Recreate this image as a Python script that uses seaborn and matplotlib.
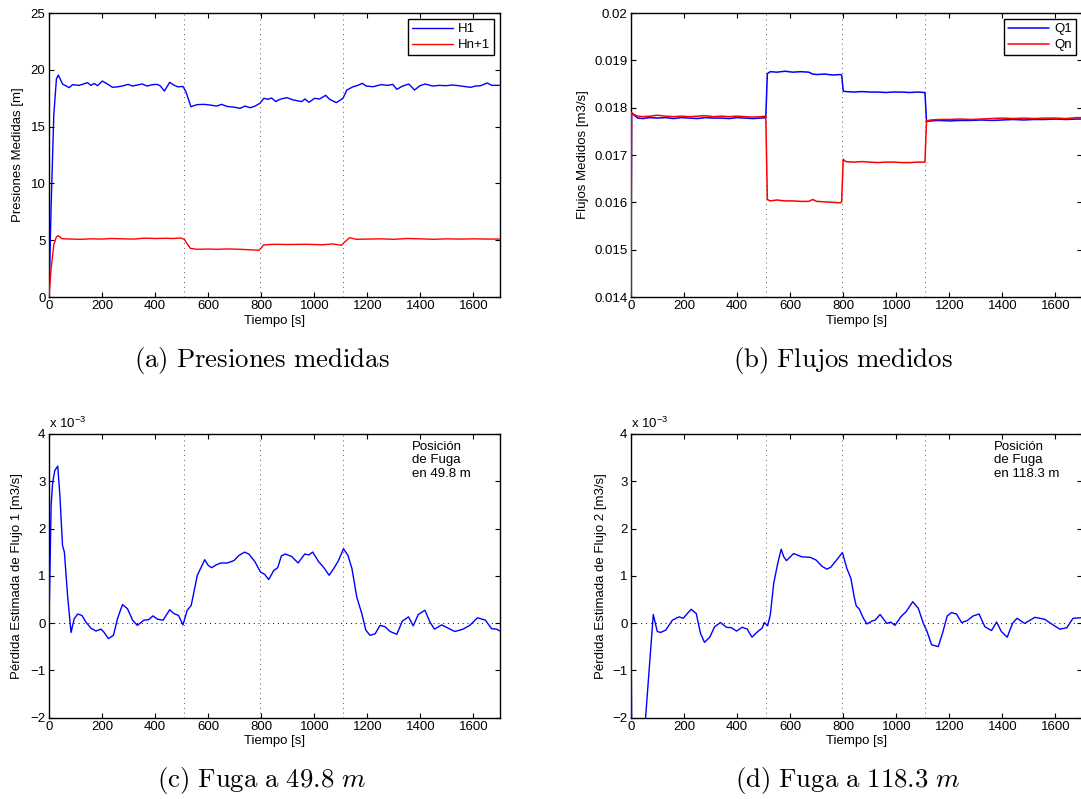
import matplotlib
matplotlib.use("Agg")
import matplotlib.pyplot as plt
from matplotlib.ticker import FuncFormatter
import pandas as pd
import seaborn as sns

# ---------------------------------------------------------------- data
# instants (s) at which the operating condition changes
event_times = [510, 795, 1110]

# (a) measured pressure heads [m]
h1_time = [0, 8, 18, 28, 35, 51, 76, 89, 114, 145,
           158, 170, 183, 201, 220, 239, 258, 276, 298, 314,
           333, 351, 370, 389, 408, 420, 435, 455, 470, 486,
           505, 516, 535, 557, 582, 607, 632, 651, 670, 695,
           720, 739, 758, 777, 795, 810, 826, 839, 855, 870,
           896, 920, 952, 965, 980, 1001, 1020, 1043, 1058, 1083,
           1108, 1123, 1146, 1161, 1181, 1196, 1221, 1252, 1277, 1296,
           1311, 1333, 1356, 1378, 1398, 1418, 1446, 1471, 1496, 1521,
           1546, 1571, 1590, 1608, 1627, 1652, 1669, 1700]
h1 = [0, 8.0, 16.0, 19.2, 19.54, 18.75, 18.43, 18.69, 18.63, 18.87,
      18.63, 18.8, 18.6, 19.01, 18.75, 18.46, 18.5, 18.57, 18.72, 18.57,
      18.66, 18.75, 18.57, 18.69, 18.72, 18.57, 18.13, 18.9, 18.66, 18.5,
      18.53, 18.07, 16.75, 16.93, 16.96, 16.9, 16.81, 16.96, 16.78, 16.72,
      16.61, 16.81, 16.66, 16.81, 17.05, 17.49, 17.4, 17.52, 17.2, 17.4,
      17.55, 17.35, 17.2, 17.43, 17.14, 17.49, 17.43, 17.75, 17.4, 17.11,
      17.49, 18.22, 18.51, 18.6, 18.81, 18.57, 18.51, 18.69, 18.63, 18.72,
      18.28, 18.57, 18.75, 18.22, 18.6, 18.75, 18.57, 18.63, 18.6, 18.66,
      18.6, 18.51, 18.46, 18.57, 18.6, 18.84, 18.63, 18.63]

hn_time = [0, 8, 18, 28, 35, 49, 80, 120, 160, 200,
           233, 280, 320, 358, 400, 440, 470, 495, 510, 520,
           533, 558, 600, 640, 670, 720, 771, 790, 800, 808,
           846, 900, 971, 1030, 1071, 1102, 1115, 1133, 1158, 1200,
           1250, 1300, 1350, 1400, 1450, 1500, 1550, 1600, 1650, 1700]
hn = [0, 2.5, 4.6, 5.3, 5.4, 5.13, 5.1, 5.08, 5.12, 5.1,
      5.15, 5.12, 5.1, 5.18, 5.15, 5.17, 5.15, 5.2, 5.08, 4.7,
      4.28, 4.2, 4.22, 4.2, 4.23, 4.2, 4.14, 4.11, 4.3, 4.58,
      4.64, 4.62, 4.64, 4.6, 4.67, 4.55, 4.85, 5.22, 5.08, 5.1,
      5.12, 5.08, 5.15, 5.12, 5.08, 5.12, 5.1, 5.12, 5.1, 5.1]

# (b) measured flows [m3/s]
flow_time = [0, 2, 10, 25, 45, 70, 100, 130, 160, 190,
             220, 250, 280, 310, 340, 370, 400, 430, 460, 490, 508,
             514, 525, 550, 580, 610, 640, 670, 685, 700, 730, 760, 790, 794,
             800, 810, 840, 870, 900, 930, 960, 990, 1020, 1050, 1080, 1108,
             1114, 1130, 1160, 1200, 1240, 1280, 1320, 1360, 1400, 1440,
             1480, 1520, 1560, 1600, 1640, 1680, 1700]
q1 = [0.0140, 0.01788, 0.01785, 0.01778, 0.01777, 0.01779, 0.01778, 0.01779, 0.01777, 0.01779,
      0.01778, 0.01777, 0.01779, 0.01778, 0.01778, 0.01777, 0.01779, 0.01778, 0.01777, 0.01778, 0.01779,
      0.01872, 0.01876, 0.01875, 0.01877, 0.01875, 0.01876, 0.01875, 0.01871, 0.01870, 0.01871,
      0.01869, 0.01870, 0.01869,
      0.01835, 0.01834, 0.01833, 0.01834, 0.01833, 0.01833, 0.01832, 0.01833, 0.01833, 0.01832,
      0.01833, 0.01832,
      0.01771, 0.01772, 0.01773, 0.01772, 0.01773, 0.01773, 0.01774, 0.01773, 0.01774, 0.01775,
      0.01774, 0.01775, 0.01775, 0.01776, 0.01775, 0.01776, 0.01776]
qn = [0.0140, 0.01790, 0.01786, 0.01782, 0.01781, 0.01782, 0.01784, 0.01782, 0.01781, 0.01782,
      0.01781, 0.01782, 0.01783, 0.01781, 0.01782, 0.01781, 0.01782, 0.01781, 0.01780, 0.01781, 0.01782,
      0.01606, 0.01603, 0.01605, 0.01603, 0.01603, 0.01602, 0.01602, 0.01606, 0.01602, 0.01601,
      0.01600, 0.01599, 0.01601,
      0.01691, 0.01686, 0.01685, 0.01686, 0.01685, 0.01684, 0.01685, 0.01685, 0.01684, 0.01684,
      0.01685, 0.01685,
      0.01772, 0.01774, 0.01775, 0.01775, 0.01776, 0.01775, 0.01776, 0.01777, 0.01778, 0.01777,
      0.01778, 0.01777, 0.01778, 0.01778, 0.01777, 0.01779, 0.01779]

# (c) estimated leak flow at 49.8 m [x 10^-3 m3/s]
leak1_time = [0, 8, 14, 22, 33, 41, 51, 58, 70, 83,
              95, 108, 124, 139, 158, 177, 196, 208, 224, 243,
              258, 277, 296, 315, 333, 358, 375, 392, 409, 430,
              455, 471, 488, 505, 521, 536, 546, 559, 571, 587,
              600, 613, 630, 647, 672, 697, 716, 737, 753, 776,
              797, 813, 828, 847, 862, 876, 891, 914, 939, 964,
              979, 994, 1016, 1035, 1056, 1073, 1091, 1110, 1127, 1142,
              1160, 1179, 1194, 1210, 1229, 1248, 1267, 1286, 1311, 1332,
              1355, 1373, 1392, 1417, 1436, 1453, 1480, 1505, 1530, 1561,
              1586, 1615, 1645, 1668, 1687, 1700]
leak1 = [0, 2.5, 2.98, 3.23, 3.32, 2.7, 1.64, 1.5, 0.58, -0.2,
         0.09, 0.19, 0.16, 0.02, -0.11, -0.17, -0.13, -0.2, -0.33, -0.26,
         0.09, 0.39, 0.3, 0.06, -0.05, 0.06, 0.07, 0.15, 0.08, 0.06,
         0.28, 0.2, 0.16, -0.04, 0.27, 0.37, 0.65, 1.01, 1.15, 1.34,
         1.22, 1.17, 1.23, 1.27, 1.27, 1.32, 1.43, 1.5, 1.46, 1.3,
         1.08, 1.03, 0.92, 1.11, 1.17, 1.42, 1.46, 1.41, 1.27, 1.46,
         1.44, 1.5, 1.3, 1.18, 1.01, 1.15, 1.32, 1.57, 1.43, 1.15,
         0.55, 0.2, -0.15, -0.26, -0.23, -0.05, -0.08, -0.18, -0.24, 0.04,
         0.13, -0.06, 0.18, 0.27, 0.02, -0.13, -0.04, -0.11, -0.18, -0.13,
         -0.05, 0.11, 0.06, -0.12, -0.13, -0.17]

# (d) estimated leak flow at 118.3 m [x 10^-3 m3/s]
leak2_time = [0, 3, 45, 55, 84, 99, 112, 131, 156, 181,
              197, 212, 227, 246, 262, 277, 297, 315, 337, 360,
              378, 398, 419, 438, 456, 478, 494, 503, 515, 525,
              538, 553, 566, 576, 586, 613, 644, 676, 698, 720,
              738, 753, 773, 797, 814, 829, 841, 849, 860, 876,
              889, 908, 920, 939, 964, 979, 995, 1017, 1037, 1062,
              1083, 1102, 1114, 1133, 1158, 1174, 1192, 1208, 1227, 1246,
              1267, 1290, 1312, 1334, 1359, 1378, 1396, 1418, 1438, 1455,
              1484, 1522, 1559, 1591, 1616, 1643, 1666, 1693, 1700]
leak2 = [0, -2.6, -2.6, -2.0, 0.18, -0.18, -0.2, -0.15, 0.06, 0.13,
         0.1, 0.2, 0.29, 0.2, -0.22, -0.41, -0.3, -0.08, 0.01, -0.09,
         -0.1, -0.17, -0.09, -0.13, -0.3, -0.18, -0.11, 0.01, -0.06, 0.17,
         0.84, 1.26, 1.56, 1.4, 1.32, 1.47, 1.4, 1.39, 1.33, 1.2,
         1.14, 1.18, 1.32, 1.49, 1.15, 0.94, 0.56, 0.36, 0.3, 0.1,
         -0.02, 0.04, 0.06, 0.18, -0.01, 0.02, -0.05, 0.13, 0.24, 0.45,
         0.31, -0.01, -0.15, -0.46, -0.5, -0.22, 0.15, 0.22, 0.19, 0.01,
         0.05, 0.15, 0.19, -0.08, -0.16, 0.02, -0.18, -0.3, -0.01, 0.1,
         -0.01, 0.12, 0.08, -0.04, -0.13, -0.1, 0.1, 0.11, 0.11]

x_ticks = [0, 200, 400, 600, 800, 1000, 1200, 1400, 1600]
pressure_ticks = [0, 5, 10, 15, 20, 25]
flow_ticks = [0.014, 0.015, 0.016, 0.017, 0.018, 0.019, 0.020]
leak_ticks = [-2, -1, 0, 1, 2, 3, 4]

captions = [r"$\mathrm{(a)\ Presiones\ medidas}$",
            r"$\mathrm{(b)\ Flujos\ medidos}$",
            r"$\mathrm{(c)\ Fuga\ a\ 49.8}\ m$",
            r"$\mathrm{(d)\ Fuga\ a\ 118.3}\ m$"]

# ---------------------------------------------------------------- style
FS = 9.5
sns.set_style("ticks")
plt.rcParams["font.family"] = ["Liberation Sans", "DejaVu Sans"]
plt.rcParams.update({
    "font.size": FS,
    "mathtext.fontset": "custom",
    "mathtext.rm": "Liberation Sans",
    "mathtext.it": "Liberation Sans:italic",
    "axes.edgecolor": "black",
    "axes.linewidth": 1.0,
    "axes.labelcolor": "black",
    "text.color": "black",
    "xtick.color": "black",
    "ytick.color": "black",
})

W, H = 1081, 799
fig = plt.figure(figsize=(W / 100, H / 100), dpi=100)


def add_axes(left_px, top_px, right_px, bottom_px):
    return fig.add_axes([left_px / W, 1 - bottom_px / H,
                         (right_px - left_px) / W, (bottom_px - top_px) / H])


ax_a = add_axes(49, 13, 500, 297)
ax_b = add_axes(631, 13, 1082, 297)
ax_c = add_axes(49, 434, 500, 717.5)
ax_d = add_axes(631, 434, 1082, 717.5)


def frame(ax, ylim, yticks):
    ax.set_xlim(0, 1700)
    ax.set_xticks(x_ticks)
    ax.set_ylim(*ylim)
    ax.set_yticks(yticks)
    for t in event_times:
        ax.axvline(t, color="0.35", ls=(0, (1, 4)), lw=0.7, zorder=1)
    ax.set_xlabel("Tiempo [s]", fontsize=FS, labelpad=1.5)
    ax.tick_params(which="both", direction="in", top=True, right=True,
                   length=3.5, width=0.8, pad=2.5, labelsize=FS, colors="black")
    for s in ax.spines.values():
        s.set_visible(True)
        s.set_linewidth(1.0)
        s.set_color("black")


def legend(ax):
    leg = ax.legend(loc="upper right", frameon=True, fancybox=False,
                    edgecolor="black", framealpha=1, fontsize=FS,
                    borderaxespad=0.45, handlelength=3.1, handletextpad=0.4,
                    labelspacing=0.3, borderpad=0.3)
    leg.get_frame().set_linewidth(1.0)


# (a) pressures
sns.lineplot(data=pd.DataFrame({"t": h1_time, "v": h1}), x="t", y="v", ax=ax_a,
             color="#0000ff", lw=1.0, label="H1", estimator=None, sort=False, zorder=3)
sns.lineplot(data=pd.DataFrame({"t": hn_time, "v": hn}), x="t", y="v", ax=ax_a,
             color="#ff0000", lw=1.0, label="Hn+1", estimator=None, sort=False, zorder=3)
frame(ax_a, (0, 25), pressure_ticks)
ax_a.set_ylabel("Presiones Medidas [m]", fontsize=FS, labelpad=5)
legend(ax_a)

# (b) flows
flows = pd.DataFrame({"t": flow_time, "Q1": q1, "Qn": qn})
sns.lineplot(data=flows, x="t", y="Q1", ax=ax_b, color="#0000ff", lw=1.1,
             label="Q1", estimator=None, sort=False, zorder=3)
sns.lineplot(data=flows, x="t", y="Qn", ax=ax_b, color="#ff0000", lw=1.1,
             label="Qn", estimator=None, sort=False, zorder=3)
frame(ax_b, (0.014, 0.020), flow_ticks)
ax_b.yaxis.set_major_formatter(FuncFormatter(lambda v, p: f"{v:g}"))
ax_b.set_ylabel("Flujos Medidos [m3/s]", fontsize=FS, labelpad=4)
legend(ax_b)

# (c), (d) estimated leak flows
for ax, tt, vv, num, pos in [(ax_c, leak1_time, leak1, 1, "49.8"),
                             (ax_d, leak2_time, leak2, 2, "118.3")]:
    ax.axhline(0, color="black", ls=(0, (1, 4)), lw=0.7, zorder=1)
    sns.lineplot(data=pd.DataFrame({"t": tt, "v": vv}), x="t", y="v", ax=ax,
                 color="#0000ff", lw=1.0, estimator=None, sort=False, zorder=3)
    frame(ax, (-2, 4), leak_ticks)
    ax.set_ylabel(f"Pérdida Estimada de Flujo {num} [m3/s]", fontsize=FS,
                  labelpad=5 if num == 1 else 4)
    ax.text(0.0, 1.012, r"x 10$^{-3}$", transform=ax.transAxes,
            ha="left", va="bottom", fontsize=FS)
    ax.text(0.805, 0.977, f"Posición\nde Fuga\nen {pos} m", transform=ax.transAxes,
            ha="left", va="top", fontsize=FS, linespacing=1.2)

# sub-figure captions
for (cx, cy), cap in zip([(262, 360), (843, 360), (262, 781), (848, 781)], captions):
    fig.text(cx / W, 1 - cy / H, cap, ha="center", va="center",
             fontsize=19.3, math_fontfamily="cm")

fig.savefig("out.png", dpi=100)
